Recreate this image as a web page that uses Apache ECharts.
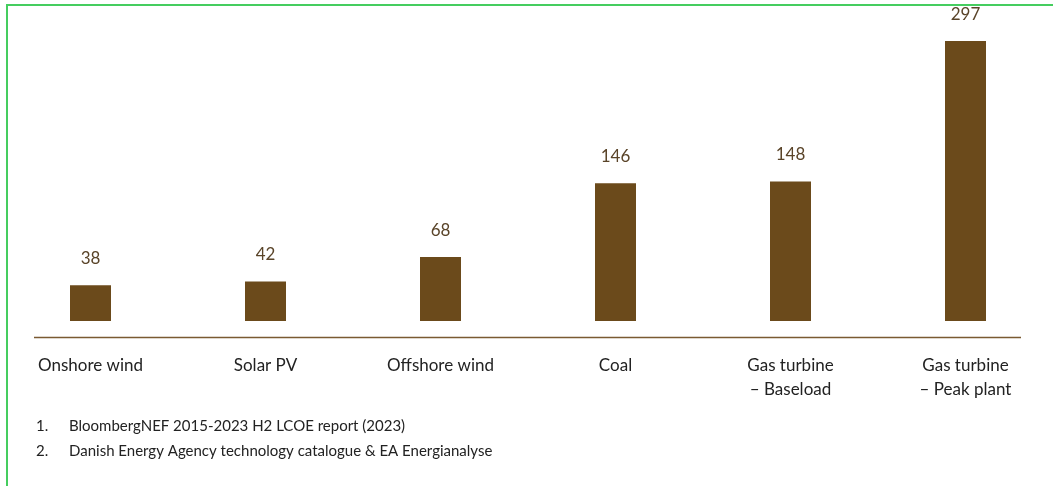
<!DOCTYPE html>
<html style="height: 100%">

<head>
    <meta charset="utf-8">
</head>

<body style="height: 100%; margin: 0; background: #fff">
    <div id="container" style="width: 1053px; height: 486px"></div>
    <script src="https://cdn.jsdelivr.net/npm/echarts@6/dist/echarts.min.js"></script>
    <script type="text/javascript">
        var categories = ['Onshore wind', 'Solar PV', 'Offshore wind', 'Coal',
            'Gas turbine\n– Baseload', 'Gas turbine\n– Peak plant'];
        var values = [38, 42, 68, 146, 148, 297];
        var footnotes = ['BloombergNEF 2015-2023 H2 LCOE report (2023)',
            'Danish Energy Agency technology catalogue & EA Energianalyse'];

        var dom = document.getElementById("container");
        var myChart = echarts.init(dom);
        var font = 'Lato';

        // border lines + baseline + footnotes
        var graphics = [
            { type: 'line', shape: { x1: 6, y1: 5, x2: 1053, y2: 5 }, style: { stroke: '#45cd5f', lineWidth: 2 } },
            { type: 'line', shape: { x1: 7, y1: 4, x2: 7, y2: 486 }, style: { stroke: '#45cd5f', lineWidth: 2 } },
            { type: 'line', shape: { x1: 34, y1: 337.5, x2: 1021, y2: 337.5 }, style: { stroke: '#7a5a32', lineWidth: 1.5 } }
        ];
        footnotes.forEach(function(t, i) {
            graphics.push({ type: 'text', left: 36, top: 419 + i * 25,
                style: { text: (i + 1) + '.', fill: '#222', font: '15px ' + font } });
            graphics.push({ type: 'text', left: 69, top: 419 + i * 25,
                style: { text: t, fill: '#222', font: '15px ' + font } });
        });

        var option = {
            animation: false,
            grid: { left: 3, right: 0, top: 41, bottom: 165 },
            xAxis: {
                type: 'category',
                data: categories,
                axisLine: { show: false },
                axisTick: { show: false },
                axisLabel: {
                    margin: 33,
                    color: '#222',
                    fontSize: 17,
                    lineHeight: 24,
                    fontFamily: font,
                    interval: 0
                }
            },
            yAxis: {
                type: 'value',
                min: 0,
                max: function(v) { return v.max; },
                show: false,
                splitLine: { show: false }
            },
            series: [{
                type: 'bar',
                data: values,
                barWidth: 41,
                itemStyle: { color: '#6b4a1b' },
                label: {
                    show: true,
                    position: 'top',
                    distance: 18,
                    color: '#5a4429',
                    fontSize: 17,
                    fontFamily: font
                }
            }],
            graphic: graphics
        };

        myChart.setOption(option);
    </script>
</body>

</html>
